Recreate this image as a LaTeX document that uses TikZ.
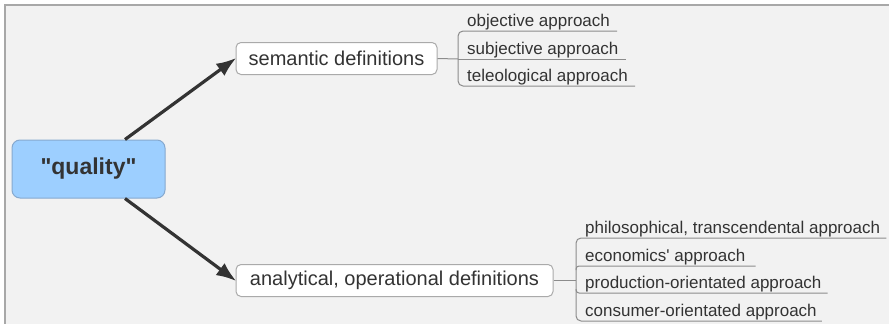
\documentclass[tikz,border=0pt]{standalone}
\usepackage{fontspec}
\setmainfont{Liberation Sans}[Ligatures=TeXOff]
\usetikzlibrary{arrows.meta,calc}
\definecolor{bgcol}{HTML}{F2F2F2}
\definecolor{framecol}{HTML}{A8A8A8}
\definecolor{txtcol}{HTML}{333333}
\definecolor{bluefill}{HTML}{9DCFFF}
\definecolor{blueline}{HTML}{86A9CF}
\definecolor{boxline}{HTML}{AAAAAA}
\definecolor{ulcol}{HTML}{8C8C8C}
\tikzset{
  rootbox/.style={draw=blueline, fill=bluefill, line width=1pt, rounded corners=8pt,
    minimum width=153pt, minimum height=58pt, inner sep=0pt, text=txtcol,
    font=\fontsize{23}{27}\selectfont\bfseries},
  subbox/.style={draw=boxline, fill=white, line width=1pt, rounded corners=5pt,
    minimum height=32pt, inner sep=0pt, text=txtcol, font=\fontsize{20}{24}\selectfont},
  leaf/.style={anchor=base west, inner sep=0pt, text=txtcol, font=\fontsize{17}{20}\selectfont},
  bigarrow/.style={draw=txtcol, line width=3.2pt, -{Latex[length=20pt,width=15pt]}, shorten >=-1pt},
  uline/.style={draw=ulcol, line width=1pt},
  bracket/.style={draw=ulcol, line width=1pt, rounded corners=5pt},
}
\begin{document}
\begin{tikzpicture}[x=1pt,y=-1pt]
\useasboundingbox (0,0) rectangle (889,324);
\fill[white] (0,0) rectangle (889,324);
\fill[bgcol] (5,5) rectangle (889,324);
\draw[framecol, line width=2pt] (5,324) -- (5,5) -- (889,5);

\node[rootbox] (q) at (88.5,169) {"quality"};
\node[subbox, minimum width=201pt] (sem) at (336.5,58.5) {semantic definitions};
\node[subbox, minimum width=317pt] (ana) at (394.5,280.5) {analytical, operational definitions};

\draw[bigarrow] ([xshift=36.5pt]q.north) -- (sem.west);
\draw[bigarrow] ([xshift=36.5pt]q.south) -- (ana.west);

% upper leaves
\node[leaf] (o1) at (467,26) {objective approach};
\node[leaf] (o2) at (467,54) {subjective approach};
\node[leaf] (o3) at (467,81) {teleological approach};
\coordinate (ue1) at ($(o1.base east)+(7,5)$);
\coordinate (ue2) at ($(o2.base east)+(7,5)$);
\coordinate (ue3) at ($(o3.base east)+(7,5)$);
\coordinate (ub1) at (458,31);
\coordinate (ub2) at (458,59);
\coordinate (ub3) at (458,86);
\draw[bracket] (ue1) -- (ub1) -- (ub3) -- (ue3);
\draw[uline] (ub2) -- (ue2);
\draw[uline] (sem.east) -- (ub2);

% lower leaves
\node[leaf] (p1) at (585,233) {philosophical, transcendental approach};
\node[leaf] (p2) at (585,261) {economics' approach};
\node[leaf] (p3) at (585,288) {production-orientated approach};
\node[leaf] (p4) at (585,316) {consumer-orientated approach};
\coordinate (le1) at ($(p1.base east)+(6,5)$);
\coordinate (le2) at ($(p2.base east)+(10,5)$);
\coordinate (le3) at ($(p3.base east)+(6,5)$);
\coordinate (le4) at ($(p4.base east)+(5,5)$);
\coordinate (lb1) at (576,238);
\coordinate (lb2) at (576,266);
\coordinate (lb3) at (576,293);
\coordinate (lb4) at (576,321);
\coordinate (lbc) at (576,280.5);
\draw[bracket] (le1) -- (lb1) -- (lb4) -- (le4);
\draw[uline, rounded corners=3pt] (le2) -- (lb2) -- ($(lb2)+(0,4)$);
\draw[uline, rounded corners=3pt] (le3) -- (lb3) -- ($(lb3)+(0,-4)$);
\draw[uline] (ana.east) -- (lbc);
\end{tikzpicture}
\end{document}
